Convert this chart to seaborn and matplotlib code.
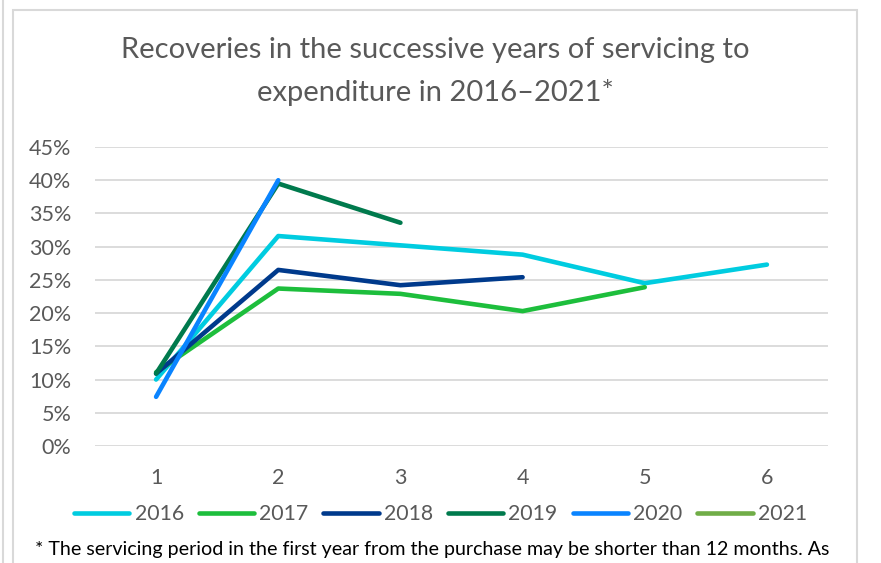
import numpy as np
import pandas as pd
import seaborn as sns
import matplotlib.pyplot as plt
from matplotlib.lines import Line2D
from matplotlib.patches import Rectangle
from matplotlib.ticker import PercentFormatter

# Recovery ratio (%) by year of servicing, per purchase year
service_years = [1, 2, 3, 4, 5, 6]
cohorts = ["2016", "2017", "2018", "2019", "2020", "2021"]
rec_2016 = [10.0, 31.6, 30.2, 28.8, 24.5, 27.3]
rec_2017 = [11.1, 23.7, 22.9, 20.3, 23.9]
rec_2018 = [10.9, 26.5, 24.2, 25.4]
rec_2019 = [10.9, 39.5, 33.6]
rec_2020 = [7.4, 40.0]
rec_2021 = [11.0]

series = [rec_2016, rec_2017, rec_2018, rec_2019, rec_2020, rec_2021]
colors = ["#00CCE0", "#1DBE3C", "#003A8C", "#007A4D", "#0A84FF", "#70AD47"]

rows = []
for name, vals in zip(cohorts, series):
    for yr, v in zip(service_years, vals):
        rows.append({"year": yr, "cohort": name, "value": v})
df = pd.DataFrame(rows)

sns.set_theme(style="white")
plt.rcParams["font.family"] = ["Lato", "DejaVu Sans"]

grey = "#595959"
fig = plt.figure(figsize=(8.81, 5.63), dpi=100)
ax = fig.add_axes([95 / 881, 1 - 446 / 563, (828 - 95) / 881, (446 - 147) / 563])

palette = dict(zip(cohorts, colors))
sns.lineplot(data=df, x="year", y="value", hue="cohort", hue_order=cohorts,
             palette=palette, linewidth=3.3, ax=ax, legend=False,
             solid_capstyle="round", solid_joinstyle="round")

ax.set_xlim(0.5, 6.5)
ax.set_ylim(0, 45)
ax.set_yticks(np.arange(0, 46, 5))
ax.set_xticks(service_years)
ax.yaxis.set_major_formatter(PercentFormatter(decimals=0))
ax.set_xlabel("")
ax.set_ylabel("")
ax.grid(axis="y", color="#D9D9D9", linewidth=1.3)
ax.grid(axis="x", visible=False)
ax.set_axisbelow(True)
for s in ax.spines.values():
    s.set_visible(False)
ax.tick_params(axis="both", length=0, labelsize=15.5, labelcolor=grey)
ax.tick_params(axis="y", pad=17)
ax.tick_params(axis="x", pad=16)

# Title
fig.text(0.494, 1 - 50 / 563, "Recoveries in the successive years of servicing to",
         ha="center", va="center", fontsize=21, color=grey)
fig.text(0.494, 1 - 93 / 563, "expenditure in 2016\u20132021*",
         ha="center", va="center", fontsize=21, color=grey)

# Legend
handles = [Line2D([0], [0], color=c, linewidth=3.3, solid_capstyle="round")
           for c in colors]
fig.legend(handles, cohorts, loc="center", bbox_to_anchor=(0.5, 1 - 514 / 563),
           ncol=6, frameon=False, fontsize=15.3, labelcolor=grey,
           handlelength=2.6, handletextpad=0.25, columnspacing=0.7)

# Footnote
fig.text(35 / 881, 1 - 549 / 563,
         "* The servicing period in the first year from the purchase may be shorter than 12 months. As",
         ha="left", va="center", fontsize=14.1, color="black")

# Chart frame
fig.patches.append(Rectangle((13 / 881, -0.05), (857 - 13) / 881, 1.05 - 10 / 563,
                             transform=fig.transFigure, fill=False,
                             edgecolor="#D9D9D9", linewidth=1.5))
fig.lines.append(Line2D([3 / 881, 3 / 881], [0, 1], transform=fig.transFigure,
                        color="#D9D9D9", linewidth=1.5))

fig.savefig("out.png", dpi=100)
